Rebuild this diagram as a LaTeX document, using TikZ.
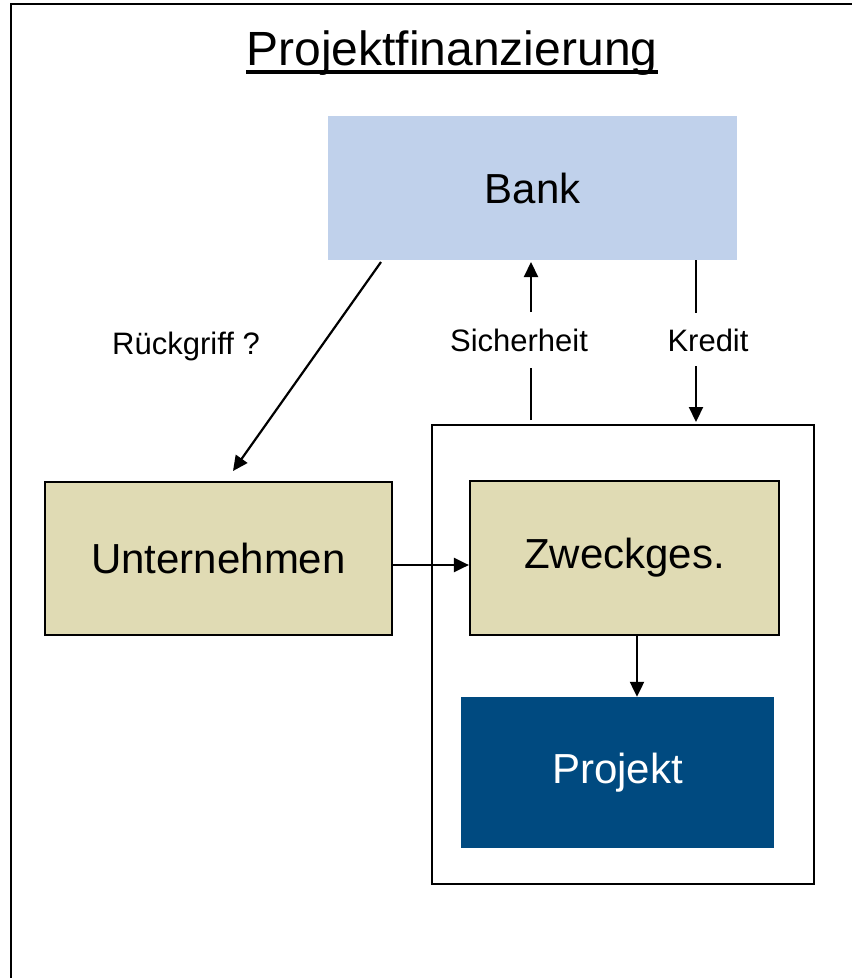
\documentclass[tikz,border=0pt]{standalone}
\usepackage{fontspec}
\setmainfont{Liberation Sans}
\usetikzlibrary{arrows.meta,calc}
\definecolor{bankblue}{HTML}{C0D1EB}
\definecolor{tan}{HTML}{E0DBB4}
\definecolor{projblue}{HTML}{004A80}
\tikzset{
  box/.style={draw=black,line width=2.2pt,fill=tan,inner sep=0pt,font=\fontsize{42}{50}\selectfont},
  lbl/.style={inner sep=0pt,font=\fontsize{31}{37}\selectfont},
  conn/.style={line width=2.2pt},
  arr/.style={line width=2.2pt,-{Triangle[length=15pt,width=14pt]}},
}
\begin{document}
\begin{tikzpicture}[x=1pt,y=-1pt]
\useasboundingbox (0,0) rectangle (852,978);
% outer frame
\draw[line width=2.2pt] (11,978) -- (11,4) -- (852,4);
% title
\node[inner sep=0pt,anchor=base,font=\fontsize{48}{56}\selectfont] (title) at (452,65) {Projektfinanzierung};
\draw[line width=3.5pt] ([yshift=-7pt]title.base west) -- ([yshift=-7pt]title.base east);
% container
\node[draw=black,line width=2.2pt,fill=white,minimum width=382pt,minimum height=459pt,inner sep=0pt] (cont) at (623,654.5) {};
% boxes
\node[fill=bankblue,inner sep=0pt,minimum width=409pt,minimum height=144pt,font=\fontsize{42}{50}\selectfont] (bank) at (532.5,188) {Bank};
\node[box,minimum width=347pt,minimum height=153pt] (unt) at (218.5,558.5) {Unternehmen};
\node[box,minimum width=309pt,minimum height=154pt] (zweck) at (624.5,558) {Zweckges.};
\node[fill=projblue,text=white,inner sep=0pt,minimum width=313pt,minimum height=151pt,font=\fontsize{42}{50}\selectfont] (proj) at (617.5,772.5) {Projekt};
% labels
\node[lbl] (rueck) at (186,346) {Rückgriff ?};
\node[lbl] (sich) at (519,340) {Sicherheit};
\node[lbl] (kred) at (708,340) {Kredit};
% connector coordinates
\coordinate (r1) at (381,262);
\coordinate (r2) at (233,471);
\coordinate (s1) at (531,420);
\coordinate (s2) at (531,368);
\coordinate (s3) at (531,312);
\coordinate (s4) at (531,262);
\coordinate (k1) at (696,260);
\coordinate (k2) at (696,313);
\coordinate (k3) at (696,366);
\coordinate (k4) at (696,422);
% connectors
\draw[arr] (r1) -- (r2);
\draw[conn] (s1) -- (s2);
\draw[arr] (s3) -- (s4);
\draw[conn] (k1) -- (k2);
\draw[arr] (k3) -- (k4);
\draw[arr] (unt.east |- 0,565) -- (zweck.west |- 0,565);
\draw[arr] (zweck.south -| 637,0) -- (proj.north -| 637,0);
\end{tikzpicture}
\end{document}
